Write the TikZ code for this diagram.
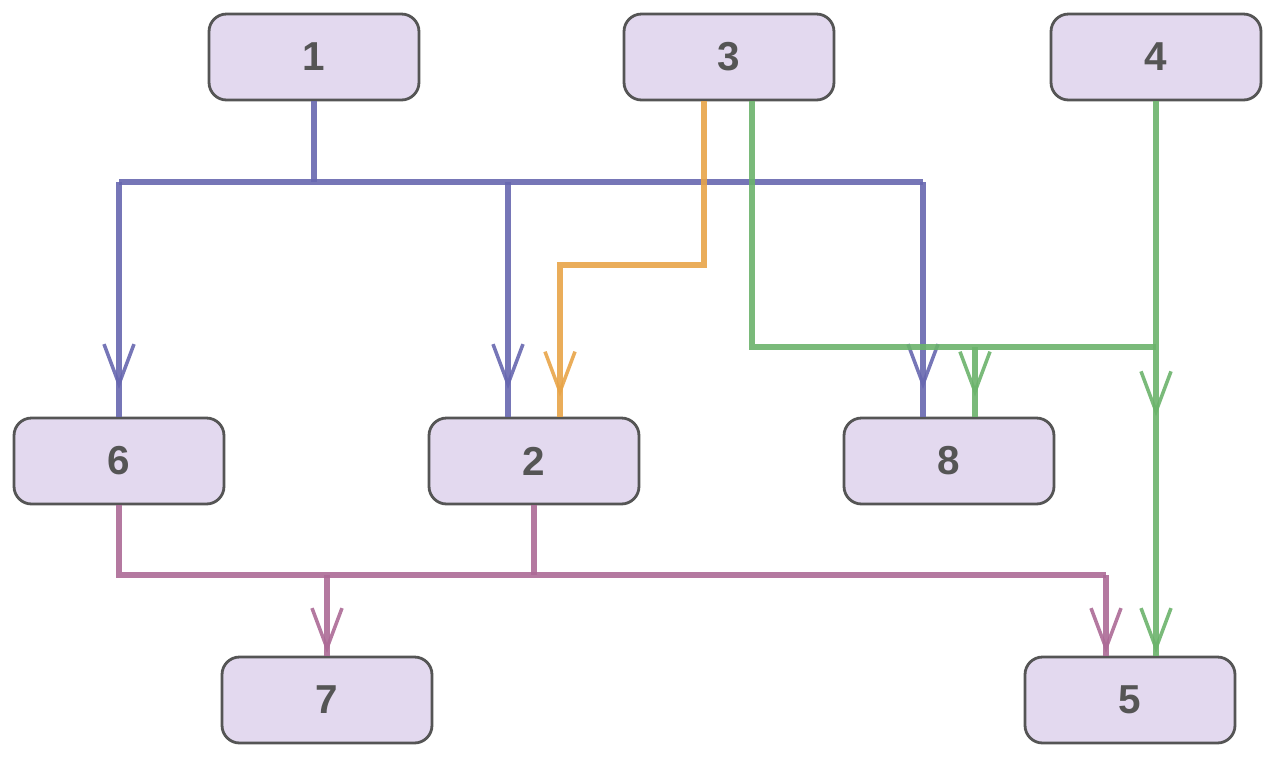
\documentclass[tikz,border=0pt]{standalone}
\usepackage{fontspec}
\setmainfont{Liberation Sans}
\usetikzlibrary{arrows.meta,calc,decorations.markings}
\definecolor{boxfill}{HTML}{E3D9EF}
\definecolor{boxline}{HTML}{555555}
\definecolor{cblue}{HTML}{6767AF}
\definecolor{corange}{HTML}{E8A448}
\definecolor{cgreen}{HTML}{6BB36B}
\definecolor{cplum}{HTML}{AC6A96}
\tikzset{
  box/.style={draw=boxline,fill=boxfill,line width=1.6pt,rounded corners=0.35cm,
    minimum width=4.2cm,minimum height=1.72cm,text=boxline,
    font=\fontsize{23}{23}\selectfont\bfseries},
  wire/.style={line width=3.9pt,opacity=0.9},
  barb/.style={postaction={decorate},decoration={markings,
    mark=at position #1 with {\arrow{Straight Barb[length=0.8cm,width=0.6cm,line width=2pt]}}}},
  twobarb/.style 2 args={postaction={decorate},decoration={markings,
    mark=at position #1 with {\arrow{Straight Barb[length=0.8cm,width=0.6cm,line width=2pt]}},
    mark=at position #2 with {\arrow{Straight Barb[length=0.8cm,width=0.6cm,line width=2pt]}}}}
}
\begin{document}
\begin{tikzpicture}[x=0.02cm,y=-0.02cm]
\useasboundingbox (0,0) rectangle (1275,762);
\node[box] (n1) at (314,57) {1};
\node[box] (n3) at (729,57) {3};
\node[box] (n4) at (1156,57) {4};
\node[box] (n6) at (119,461) {6};
\node[box] (n2) at (534,461) {2};
\node[box] (n8) at (949,461) {8};
\node[box] (n7) at (327,700) {7};
\node[box] (n5) at (1130,700) {5};
% 1 to 6, 2, 8
\draw[wire,cblue] (n1.south) -- (314,182);
\draw[wire,cblue] (119,182) -- (923,182);
\draw[wire,cblue,barb=-0.55cm] (119,182) -- (n6.north);
\draw[wire,cblue,barb=-0.55cm] (508,182) -- ($(n2.north)+(-26,0)$);
\draw[wire,cblue,barb=-0.55cm] (923,182) -- ($(n8.north)+(-26,0)$);
% 3 to 2
\draw[wire,corange,barb=-0.4cm] ($(n3.south)+(-25,0)$) |- (560,265) -- ($(n2.north)+(26,0)$);
% 3 and 4 to 8 and 5
\draw[wire,cgreen] ($(n3.south)+(23,0)$) |- (1156,347);
\draw[wire,cgreen,barb=-0.4cm] (975,347) -- ($(n8.north)+(26,0)$);
\draw[wire,cgreen,twobarb={6.3cm}{-0.05cm}] (n4.south) -- ($(n5.north)+(26,0)$);
% 6 and 2 to 7 and 5
\draw[wire,cplum] (n6.south) |- (1106,575);
\draw[wire,cplum] (n2.south) -- (534,575);
\draw[wire,cplum,barb=-0.05cm] (327,575) -- (n7.north);
\draw[wire,cplum,barb=-0.05cm] (1106,575) -- ($(n5.north)+(-24,0)$);
\end{tikzpicture}
\end{document}
